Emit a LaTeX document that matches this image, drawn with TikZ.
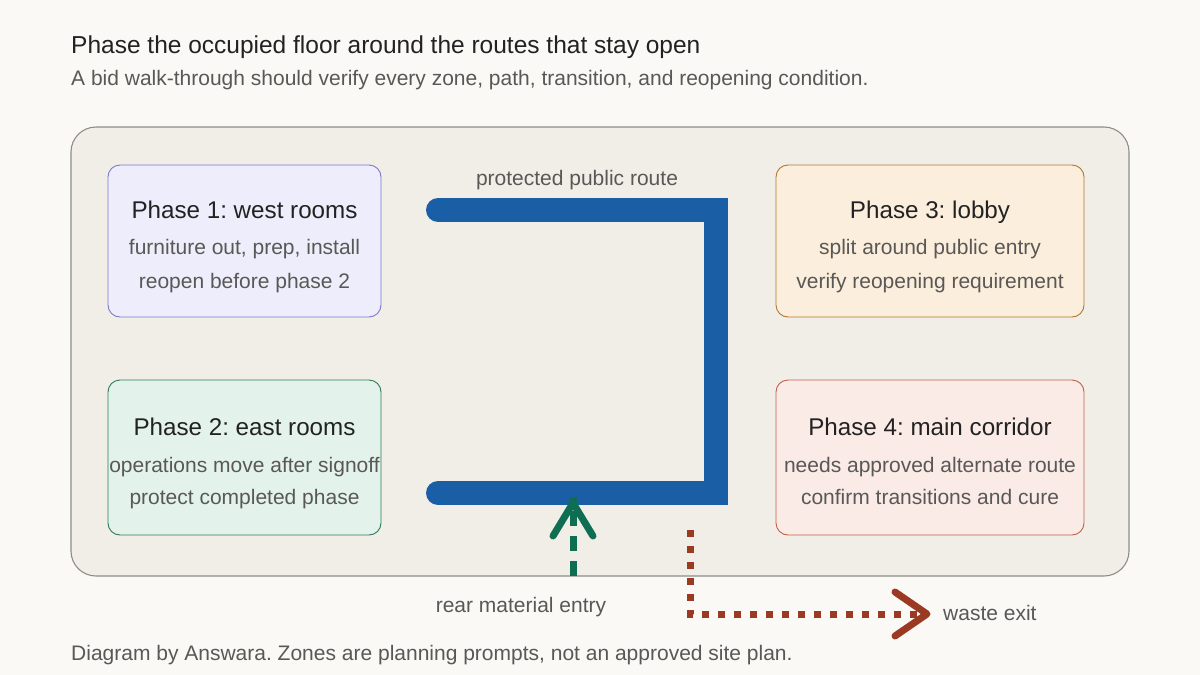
\documentclass[tikz,border=0pt]{standalone}
\usepackage{fontspec}
\setmainfont{Liberation Sans}
\frenchspacing
\definecolor{bg}{HTML}{FAF9F6}
\definecolor{floor}{HTML}{F1EEE8}
\definecolor{floorline}{HTML}{8E8D88}
\definecolor{ink}{HTML}{222222}
\definecolor{muted}{HTML}{595856}
\definecolor{route}{HTML}{1A5FA6}
\definecolor{pone}{HTML}{EEEDFB}\definecolor{poneline}{HTML}{7D78CC}
\definecolor{ptwo}{HTML}{E3F3EC}\definecolor{ptwoline}{HTML}{2E7A58}
\definecolor{pthree}{HTML}{FBEEDC}\definecolor{pthreeline}{HTML}{B0782E}
\definecolor{pfour}{HTML}{FAEBE6}\definecolor{pfourline}{HTML}{C0604A}
\definecolor{entry}{HTML}{0E6E52}
\definecolor{waste}{HTML}{9A3A22}
\tikzset{
  zone/.style={draw=#1line, fill=#1, line width=0.9pt, rounded corners=12pt, inner sep=0pt},
  ztitle/.style={anchor=base, text=ink, font=\fontsize{24.2}{28}\selectfont},
  zbody/.style={anchor=base, text=muted, font=\fontsize{21}{25}\selectfont},
  lbl/.style={anchor=base, text=muted, font=\fontsize{21}{25}\selectfont},
  chev/.style={line width=7pt, line cap=round, line join=round},
}
\begin{document}
\begin{tikzpicture}[x=1pt,y=-1pt]
\fill[bg] (0,0) rectangle (1200,675);
\useasboundingbox (0,0) rectangle (1200,675);
% titles
\node[anchor=base west, text=ink, font=\fontsize{24.5}{28}\selectfont, inner sep=0pt] (title) at (71,53) {Phase the occupied floor around the routes that stay open};
\node[anchor=base west, text=muted, font=\fontsize{21}{25}\selectfont, inner sep=0pt] (sub) at (71,85) {A bid walk-through should verify every zone, path, transition, and reopening condition.};
% floor
\draw[floorline, fill=floor, line width=1.1pt, rounded corners=25pt] (71,127) rectangle (1129,576);
% zones
\draw[zone=pone] (108,165) rectangle (381,317);
\draw[zone=ptwo] (108,380) rectangle (381,535);
\draw[zone=pthree] (776,165) rectangle (1084,317);
\draw[zone=pfour] (776,380) rectangle (1084,535);
\node[ztitle] (p1t) at (244.5,218) {Phase 1: west rooms};
\node[zbody] (p1a) at (244.5,254) {furniture out, prep, install};
\node[zbody] (p1b) at (244.5,288) {reopen before phase 2};
\node[ztitle] (p2t) at (244.5,435) {Phase 2: east rooms};
\node[zbody] (p2a) at (244.5,472) {operations move after signoff};
\node[zbody] (p2b) at (244.5,504) {protect completed phase};
\node[ztitle] (p3t) at (930,218) {Phase 3: lobby};
\node[zbody] (p3a) at (930,254) {split around public entry};
\node[zbody] (p3b) at (930,288) {verify reopening requirement};
\node[ztitle] (p4t) at (930,435) {Phase 4: main corridor};
\node[zbody] (p4a) at (930,472) {needs approved alternate route};
\node[zbody] (p4b) at (930,504) {confirm transitions and cure};
% protected route
\coordinate (rA) at (438,210);
\coordinate (rB) at (716,210);
\coordinate (rC) at (716,493);
\coordinate (rD) at (438,493);
\draw[route, line width=24pt, line cap=round, line join=miter] (rA) -- (rB) -- (rC) -- (rD);
\node[lbl] (routelbl) at (577,185) {protected public route};
% rear material entry
\coordinate (eS) at (573,576);
\coordinate (eT) at (573,503);
\draw[entry, line width=7pt, dash pattern=on 15pt off 10pt] (eS) -- ([yshift=6pt]eT);
\draw[entry, chev] (553,536) -- (eT) -- (593,536);
\node[lbl] (entrylbl) at (521,612) {rear material entry};
% waste exit
\coordinate (wS) at (690,530);
\coordinate (wC) at (690,614);
\coordinate (wT) at (927,614);
\draw[waste, line width=7pt, dash pattern=on 7pt off 9pt] (wS) -- (wC) -- ([xshift=-4pt]wT);
\draw[waste, chev] (895,592) -- (wT) -- (895,636);
\node[anchor=base west, text=muted, font=\fontsize{21}{25}\selectfont, inner sep=0pt] (wastelbl) at (943,620) {waste exit};
% footer
\node[anchor=base west, text=muted, font=\fontsize{21}{25}\selectfont, inner sep=0pt] (foot) at (71,660) {Diagram by Answara. Zones are planning prompts, not an approved site plan.};
\end{tikzpicture}
\end{document}
